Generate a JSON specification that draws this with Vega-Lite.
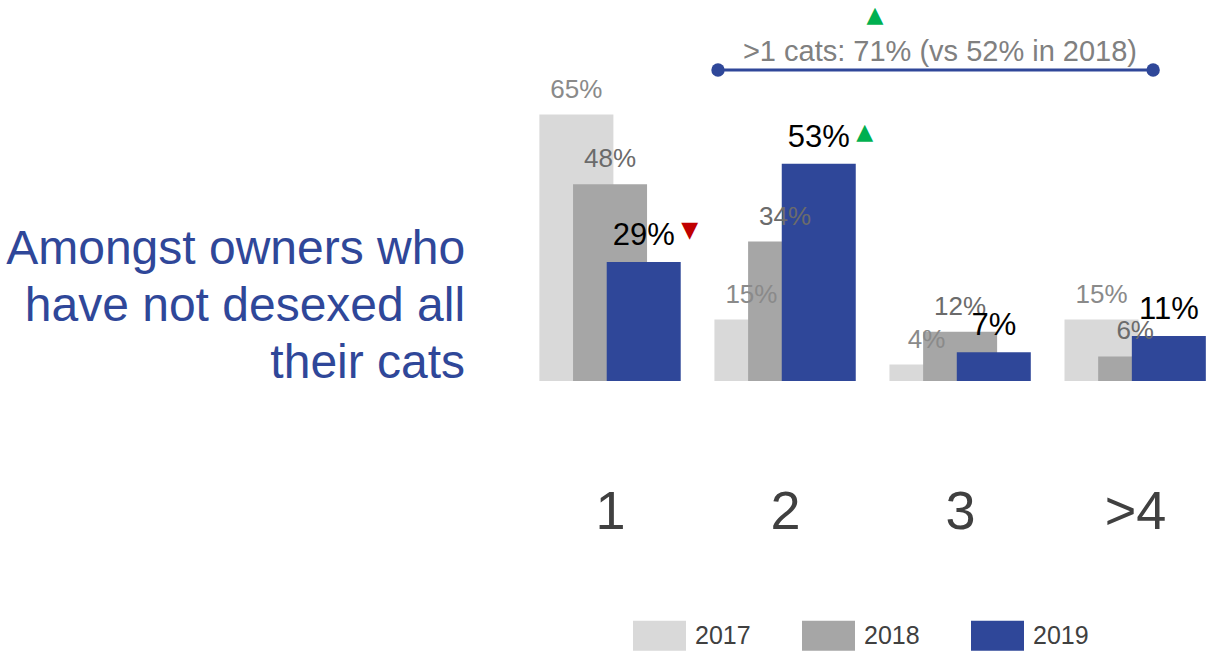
{
  "$schema": "https://vega.github.io/schema/vega-lite/v6.json",
  "width": 690,
  "height": 369,
  "autosize": "none",
  "padding": {"left": 528, "top": 12, "right": 0, "bottom": 274},
  "config": {
    "view": {"stroke": null},
    "font": "Liberation Sans",
    "text": {"font": "Liberation Sans"}
  },
  "title": {
    "text": ["Amongst owners who", "have not desexed all", "their cats"],
    "orient": "left",
    "angle": 0,
    "align": "right",
    "baseline": "middle",
    "anchor": "middle",
    "offset": 62,
    "dx": 458,
    "dy": 53,
    "fontSize": 48,
    "lineHeight": 57,
    "fontWeight": "normal",
    "font": "Liberation Sans",
    "color": "#2F4799"
  },
  "data": {
    "values": [
      {"cat": "1", "year": "2017", "value": 0.65},
      {"cat": "2", "year": "2017", "value": 0.15},
      {"cat": "3", "year": "2017", "value": 0.04},
      {"cat": ">4", "year": "2017", "value": 0.15},
      {"cat": "1", "year": "2018", "value": 0.48},
      {"cat": "2", "year": "2018", "value": 0.34},
      {"cat": "3", "year": "2018", "value": 0.12},
      {"cat": ">4", "year": "2018", "value": 0.06},
      {"cat": "1", "year": "2019", "value": 0.29},
      {"cat": "2", "year": "2019", "value": 0.53},
      {"cat": "3", "year": "2019", "value": 0.07},
      {"cat": ">4", "year": "2019", "value": 0.11}
    ]
  },
  "layer": [
    {
      "mark": {"type": "bar", "width": 74},
      "encoding": {
        "x": {
          "field": "cat", "type": "nominal",
          "scale": {"domain": ["1", "2", "3", ">4"], "paddingInner": 0.19, "paddingOuter": 0.066},
          "axis": {"title": null, "domain": false, "ticks": false, "grid": false, "labelAngle": 0, "labelFontSize": 54, "labelColor": "#404040", "labelPadding": 104, "labelFont": "Liberation Sans"}
        },
        "xOffset": {"field": "year", "type": "nominal", "scale": {"range": [20, 121]}},
        "y": {"field": "value", "type": "quantitative", "scale": {"domain": [0, 0.9]}, "axis": null},
        "color": {
          "field": "year", "type": "nominal",
          "scale": {"domain": ["2017", "2018", "2019"], "range": ["#D9D9D9", "#A6A6A6", "#2F4799"]},
          "legend": {
            "title": null, "orient": "none", "direction": "horizontal",
            "legendX": 105, "legendY": 597,
            "symbolType": "M-1,-0.566H1V0.566H-1Z", "symbolSize": 2809, "symbolStrokeWidth": 0, "symbolOpacity": 1,
            "labelFontSize": 25, "labelColor": "#404040", "labelOffset": 9, "columnPadding": 51, "padding": 0, "labelFont": "Liberation Sans"
          }
        }
      }
    },
    {
      "mark": {"type": "text", "baseline": "alphabetic", "dy": -17},
      "encoding": {
        "x": {"field": "cat", "type": "nominal"},
        "xOffset": {"field": "year", "type": "nominal"},
        "y": {"field": "value", "type": "quantitative"},
        "text": {"field": "value", "type": "quantitative", "format": ".0%"},
        "color": {"condition": [{"test": "datum.year == '2019'", "value": "#000000"}, {"test": "datum.year == '2018'", "value": "#6b6b6b"}], "value": "#8a8a8a"},
        "size": {"condition": {"test": "datum.year == '2019'", "value": 31}, "value": 26}
      }
    },
    {
      "data": {"values": [
        {"cat": "1", "year": "2019", "value": 0.29, "sym": "▼"},
        {"cat": "2", "year": "2019", "value": 0.53, "sym": "▲"}
      ]},
      "mark": {"type": "text", "baseline": "middle", "dx": 46, "dy": -32, "font": "DejaVu Sans", "fontSize": 22},
      "encoding": {
        "x": {"field": "cat", "type": "nominal"},
        "xOffset": {"field": "year", "type": "nominal"},
        "y": {"field": "value", "type": "quantitative"},
        "text": {"field": "sym"},
        "color": {"condition": {"test": "datum.sym == '▼'", "value": "#C00000"}, "value": "#00B050"}
      }
    },
    {
      "data": {"values": [{"start": "2", "end": ">4", "mid": "3", "label": ">1 cats: 71% (vs 52% in 2018)", "sym": "▲"}]},
      "layer": [
        {
          "mark": {"type": "rule", "color": "#2F4799", "strokeWidth": 3},
          "encoding": {
            "x": {"field": "start", "type": "nominal", "bandPosition": 0.024},
            "x2": {"field": "end", "bandPosition": 0.624},
            "y": {"datum": 0.7585, "type": "quantitative"}
          }
        },
        {
          "mark": {"type": "point", "filled": true, "size": 180, "opacity": 1, "color": "#2F4799"},
          "encoding": {
            "x": {"field": "start", "type": "nominal", "bandPosition": 0.024},
            "y": {"datum": 0.7585, "type": "quantitative"}
          }
        },
        {
          "mark": {"type": "point", "filled": true, "size": 180, "opacity": 1, "color": "#2F4799"},
          "encoding": {
            "x": {"field": "end", "type": "nominal", "bandPosition": 0.624},
            "y": {"datum": 0.7585, "type": "quantitative"}
          }
        },
        {
          "mark": {"type": "text", "baseline": "middle", "fontSize": 29, "color": "#808080"},
          "encoding": {
            "x": {"field": "mid", "type": "nominal", "bandPosition": 0.355},
            "y": {"datum": 0.802, "type": "quantitative"},
            "text": {"field": "label"}
          }
        },
        {
          "mark": {"type": "text", "baseline": "middle", "fontSize": 22, "font": "DejaVu Sans", "color": "#00B050"},
          "encoding": {
            "x": {"field": "mid", "type": "nominal", "bandPosition": -0.103},
            "y": {"datum": 0.893, "type": "quantitative"},
            "text": {"field": "sym"}
          }
        }
      ]
    }
  ]
}
